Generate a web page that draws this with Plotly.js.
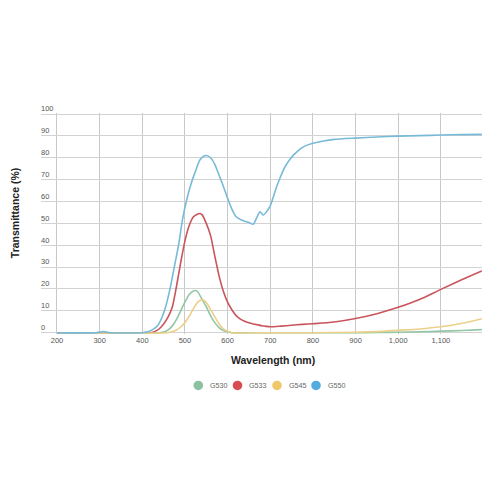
<!DOCTYPE html>
<html>
<head>
<meta charset="utf-8">
<script src="https://cdn.plot.ly/plotly-3.0.1.min.js"></script>
<style>html,body{margin:0;padding:0;background:#fff;}#chart{width:500px;height:500px;}</style>
</head>
<body>
<div id="chart"></div>
<script>
// Wavelength (nm) / Transmittance (%)
var seriesNames = ["G530", "G533", "G545", "G550"];

var g530X = [200,440,450,460,470,480,490,500,510,520,525,530,540,550,560,570,580,590,600,610,700,800,900,950,1000,1050,1100,1150,1196];
var g530Y = [0,0,0.3,1.2,3,6,10,14,17.5,19.1,19.3,18.7,15.3,11.9,7.8,4.6,2.3,1,0.4,0,0,0,0,0.1,0.2,0.4,0.7,1.0,1.4];

var g533X = [200,420,430,440,450,460,470,480,490,500,510,520,530,535,540,550,560,570,580,590,600,610,620,630,640,650,660,670,680,690,700,725,750,775,800,850,900,950,1000,1050,1100,1150,1196];
var g533Y = [0,0,0.6,1.8,4,7,11.5,21,32,42,49,53,54.3,54.5,54,50,44.5,35,26,19,14,10.5,7.8,6.2,5.2,4.5,4,3.6,3.2,2.9,2.7,3,3.4,3.8,4.1,4.9,6.5,8.7,11.6,15.2,19.8,24.3,28.2];

var g545X = [200,460,470,480,490,500,510,520,530,540,545,550,560,570,580,590,600,610,700,800,900,950,1000,1050,1100,1150,1196];
var g545Y = [0,0,0.4,1.2,2.6,4.6,7.5,11,14,15.1,14.8,13.8,10.7,7.2,4,1.8,0.6,0,0,0,0.2,0.5,1.1,1.7,2.7,4.3,6.4];

var g550X = [200,290,308,325,400,415,425,435,445,455,465,475,485,495,505,515,525,535,545,550,560,570,580,590,600,610,620,630,640,650,660,668,676,684,692,700,715,725,735,745,755,765,780,800,825,850,900,950,1000,1050,1100,1150,1196];
var g550Y = [0,0,0.5,0,0,0.5,1.5,3,6.5,12,20,30,40,52.5,61.5,68.5,74,79,80.8,81,80,77,72,67,61.5,56.5,53,51.8,51,50.4,49.6,52.5,55.3,53.8,55.5,58,66.7,71.8,76,79,81.3,83.2,85.2,86.6,87.7,88.4,89,89.5,89.9,90.1,90.4,90.6,90.7];

var lineColors = ["#93c6a6", "#c9545b", "#ebd08a", "#78bad8"];
var legendColors = ["#8cc2a2", "#d84c51", "#efc86c", "#52acdd"];

var xs = [g530X, g533X, g545X, g550X];
var ys = [g530Y, g533Y, g545Y, g550Y];

var traces = [];
for (var i = 0; i < seriesNames.length; i++) {
  traces.push({
    type: "scatter", mode: "lines", name: seriesNames[i],
    x: xs[i], y: ys[i], showlegend: false, hoverinfo: "skip",
    line: {color: lineColors[i], width: 1.6, shape: "spline", smoothing: 0.7}
  });
}
// empty trace that carries the tick-label axis (y2)
traces.push({type: "scatter", mode: "lines", x: [null], y: [null], xaxis: "x2", yaxis: "y2",
             showlegend: false, hoverinfo: "skip"});

// pixel geometry: y 100 at 114px, 0 at 332.3px (2.183 px/unit); x 200 at 57px (0.4265 px/nm)
var pxPerY = 2.183;
var yBot = -0.6, yTopMain = 100.6;
var plotTopPx = 100, plotBottomPx = 332.3 - yBot * pxPerY;
var H = plotBottomPx - plotTopPx;
var mainTopPx = 114 - (yTopMain - 100) * pxPerY;
var yTopLabels = 100 + (114 - plotTopPx) / pxPerY;
var ml = 41, W = 441;

var layout = {
  width: 500, height: 500,
  margin: {l: ml, r: 500 - ml - W, t: plotTopPx, b: 500 - plotBottomPx, pad: 0},
  paper_bgcolor: "#ffffff", plot_bgcolor: "rgba(0,0,0,0)",
  font: {family: "Liberation Sans, Arial, sans-serif", color: "#555"},
  showlegend: false,
  xaxis: {
    domain: [0, 1], anchor: "y",
    range: [162.5, 1196.5], tick0: 0, dtick: 100, tickformat: ",",
    showgrid: true, gridcolor: "#c8c8c8", gridwidth: 1,
    zeroline: false, showline: false, ticks: "",
    tickfont: {size: 7.5, color: "#555"}
  },
  yaxis: {
    domain: [0, (plotBottomPx - mainTopPx) / H], anchor: "x",
    range: [yBot, yTopMain], tick0: 0, dtick: 10,
    showgrid: true, gridcolor: "#d2d2d2", gridwidth: 1,
    zeroline: false, showline: false, ticks: "", showticklabels: false
  },
  xaxis2: {domain: [0, 1], anchor: "y2", range: [0, 1], visible: false, showgrid: false},
  yaxis2: {
    domain: [0, 1], anchor: "x2",
    range: [yBot, yTopLabels], tick0: 0, dtick: 10,
    showgrid: false, zeroline: false, showline: false, ticks: "",
    ticklabelposition: "inside top", ticklabelstandoff: -3,
    tickfont: {size: 7.5, color: "#555"}
  },
  annotations: [
    {text: "Transmittance (%)", xref: "paper", yref: "paper", x: (15 - ml) / W, y: (plotBottomPx - 213) / H,
     showarrow: false, textangle: -90, xanchor: "center", yanchor: "middle",
     font: {size: 10.5, color: "#222", family: "Liberation Sans, Arial, sans-serif", weight: "bold"}},
    {text: "Wavelength (nm)", xref: "paper", yref: "paper", x: (273 - ml) / W, y: (plotBottomPx - 360) / H,
     showarrow: false, xanchor: "center", yanchor: "middle",
     font: {size: 10.5, color: "#222", family: "Liberation Sans, Arial, sans-serif", weight: "bold"}}
  ],
  shapes: []
};

// legend row (circle + label per series)
var legendCentersPx = [198.3, 237.5, 277, 316];
var legendRowPx = 385;
for (var k = 0; k < seriesNames.length; k++) {
  var ax = (legendCentersPx[k] - ml) / W, ay = (plotBottomPx - legendRowPx) / H;
  layout.shapes.push({
    type: "circle", xref: "paper", yref: "paper", xsizemode: "pixel", ysizemode: "pixel",
    xanchor: ax, yanchor: ay, x0: -4.8, x1: 4.8, y0: -4.8, y1: 4.8,
    fillcolor: legendColors[k], line: {width: 0}
  });
  layout.annotations.push({
    text: seriesNames[k], xref: "paper", yref: "paper", x: (legendCentersPx[k] + 9.5 - ml) / W, y: ay,
    showarrow: false, xanchor: "left", yanchor: "middle",
    font: {size: 7.2, color: "#666"}
  });
}

Plotly.newPlot("chart", traces, layout, {displayModeBar: false, staticPlot: true});
</script>
</body>
</html>
